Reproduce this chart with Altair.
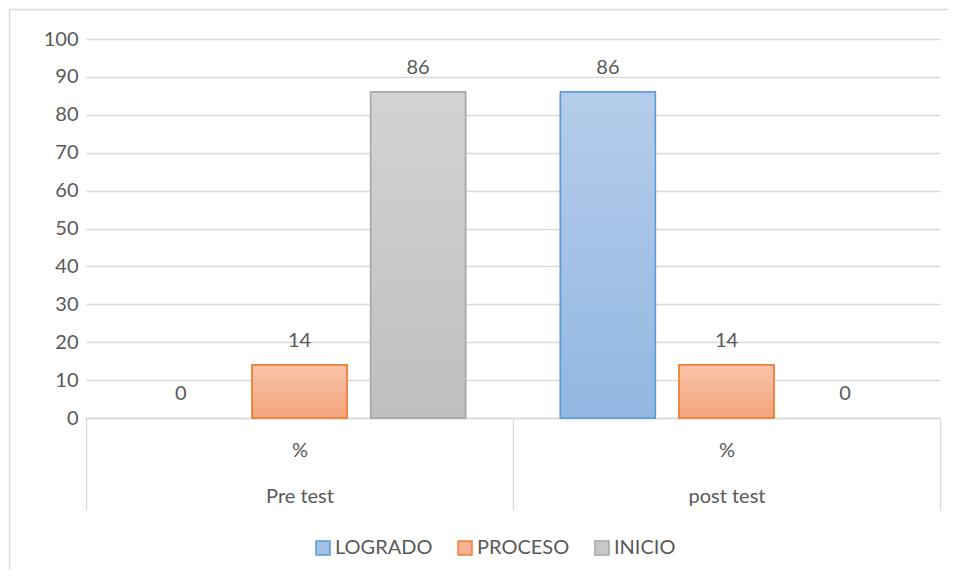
import altair as alt
import pandas as pd

groups = ["Pre test", "post test"]
series = ["LOGRADO", "PROCESO", "INICIO"]
pre_values = [0, 14, 86]
post_values = [86, 14, 0]

fill_mid = ["#a3c1e6", "#f6b292", "#c8c8c8"]
fill_top = ["#b5cdea", "#f8c3a9", "#d3d3d3"]
fill_bot = ["#92b7e2", "#f4a47b", "#bfbfbf"]
strokes = ["#5b9bd5", "#ed7d31", "#a5a5a5"]

rows = []
for g, vals in zip(groups, [pre_values, post_values]):
    for s, v in zip(series, vals):
        rows.append({"grupo": g, "serie": s, "valor": v})
df = pd.DataFrame(rows)

FONT = "Lato"
TXT = "#595959"
GRID = "#d9d9d9"

x_enc = alt.X(
    "grupo:N",
    sort=groups,
    scale=alt.Scale(domain=groups, paddingInner=0, paddingOuter=0),
    axis=alt.Axis(
        title=None,
        labelAngle=0,
        labelExpr="indexof(['Pre test', 'post test'], datum.value) >= 0 ? ['%', datum.label] : ''",
        labelLineHeight=46,
        labelFontSize=20,
        labelFont=FONT,
        labelColor=TXT,
        labelPadding=-70,
        domainColor=GRID,
        domainWidth=1.3,
        tickBand="extent",
        tickSize=92,
        tickColor=GRID,
        tickWidth=1.3,
        grid=False,
    ),
)
xo_enc = alt.XOffset(
    "serie:N",
    sort=series,
    scale=alt.Scale(domain=series, paddingInner=0.2, paddingOuter=0.4),
)
y_enc = alt.Y(
    "valor:Q",
    scale=alt.Scale(domain=[0, 100], nice=False),
    axis=alt.Axis(
        title=None,
        values=list(range(0, 101, 10)),
        grid=True,
        gridColor=GRID,
        gridWidth=1.3,
        domain=False,
        ticks=False,
        labelPadding=8,
        labelFontSize=20,
        labelFont=FONT,
        labelColor=TXT,
    ),
)

base = alt.Chart(df).encode(x=x_enc, xOffset=xo_enc, y=y_enc)

legend = alt.Legend(
    title=None,
    orient="none",
    legendX=227,
    legendY=499,
    direction="horizontal",
    symbolType="square",
    symbolSize=196,
    symbolStrokeWidth=1.5,
    labelFontSize=20,
    labelFont=FONT,
    labelColor=TXT,
    labelOffset=2,
    columnPadding=22,
)

solid = base.transform_filter("datum.valor > 0").mark_bar(strokeWidth=1.5).encode(
    fill=alt.Fill("serie:N", sort=series, scale=alt.Scale(domain=series, range=fill_mid), legend=legend),
    stroke=alt.Stroke("serie:N", sort=series, scale=alt.Scale(domain=series, range=strokes), legend=legend),
)

layers = [solid]
for s, top, bot, st in zip(series, fill_top, fill_bot, strokes):
    layers.append(
        base.transform_filter(f"datum.serie == '{s}' && datum.valor > 0").mark_bar(
            fill=alt.Gradient(
                gradient="linear",
                stops=[alt.GradientStop(color=top, offset=0), alt.GradientStop(color=bot, offset=1)],
                x1=0, x2=0, y1=0, y2=1,
            ),
            stroke=st,
            strokeWidth=1.5,
        )
    )

labels = base.mark_text(dy=-24, fontSize=20, font=FONT, color=TXT).encode(text="valor:Q")
layers.append(labels)

border_df = pd.DataFrame({"k": [0]})
top_border = alt.Chart(border_df).mark_rule(color=GRID, strokeWidth=1.5).encode(
    x=alt.value(-76.5), x2=alt.value(870), y=alt.value(-29.5)
)
left_border = alt.Chart(border_df).mark_rule(color=GRID, strokeWidth=1.5).encode(
    x=alt.value(-76.5), y=alt.value(-29.5), y2=alt.value(540)
)
layers += [top_border, left_border]

chart = alt.layer(*layers).properties(
    width=854,
    height=379,
    autosize=alt.AutoSizeParams(type="none"),
    padding={"left": 78, "top": 31, "right": 8, "bottom": 152},
).configure_view(stroke=None)

chart.save("out.html", embed_options={"renderer": "svg", "actions": False})
